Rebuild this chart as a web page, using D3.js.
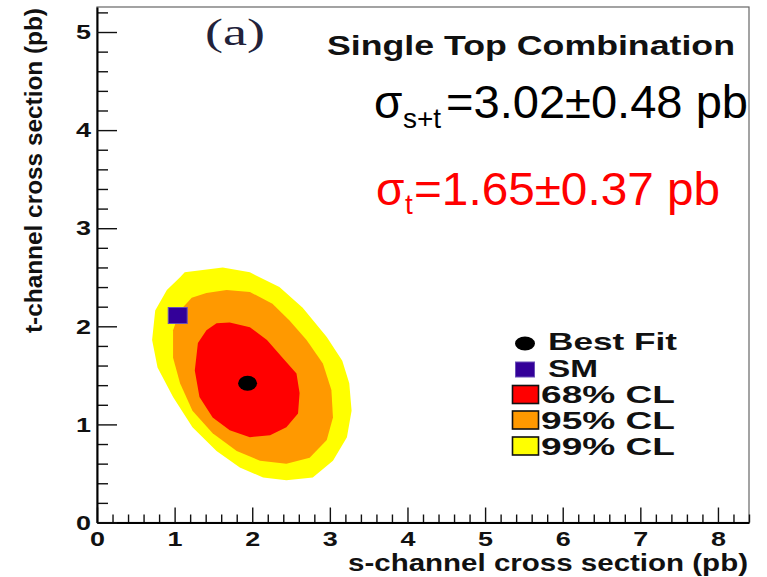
<!DOCTYPE html>
<html>
<head>
<meta charset="utf-8">
<script src="https://cdn.jsdelivr.net/npm/d3@7"></script>
<style>
  html, body { margin: 0; padding: 0; background: #fff; }
  svg { display: block; }
  text { font-family: "Liberation Sans", Arial, Helvetica, sans-serif; }
</style>
</head>
<body>
<svg id="chart" width="767" height="577"></svg>
<script>
// Axis ticks (pb)
const sMajorTicks = [0, 1, 2, 3, 4, 5, 6, 7, 8];
const tMajorTicks = [0, 1, 2, 3, 4, 5];

// Best-fit point and Standard Model prediction, [s-channel, t-channel] in pb
const bestFit = [1.94, 1.42];
const smPoint = [1.04, 2.11];

// Confidence-region outlines, [s, t] pairs in pb
const cl99 = [
  [1.13, 2.55], [1.62, 2.60], [1.97, 2.55], [2.35, 2.40], [2.65, 2.19],
  [2.96, 1.89], [3.16, 1.65], [3.25, 1.42], [3.28, 1.14], [3.22, 0.87],
  [3.04, 0.63], [2.78, 0.46], [2.44, 0.43], [2.14, 0.46], [1.84, 0.56],
  [1.54, 0.73], [1.23, 0.97], [0.98, 1.28], [0.78, 1.58], [0.71, 1.86],
  [0.75, 2.16], [0.90, 2.37], [1.07, 2.50]
];
const cl95 = [
  [1.22, 2.29], [1.41, 2.34], [1.67, 2.37], [1.97, 2.35], [2.26, 2.23],
  [2.48, 2.06], [2.70, 1.86], [2.91, 1.62], [3.02, 1.35], [3.04, 1.07],
  [2.96, 0.84], [2.74, 0.66], [2.44, 0.60], [2.10, 0.63], [1.80, 0.73],
  [1.49, 0.91], [1.23, 1.14], [1.07, 1.42], [0.98, 1.68], [0.98, 1.96],
  [1.07, 2.16]
];
const cl68 = [
  [1.41, 1.96], [1.54, 2.03], [1.71, 2.04], [1.97, 1.99], [2.19, 1.86],
  [2.39, 1.68], [2.57, 1.52], [2.61, 1.32], [2.59, 1.11], [2.44, 0.97],
  [2.23, 0.89], [1.97, 0.87], [1.71, 0.94], [1.49, 1.07], [1.32, 1.28],
  [1.26, 1.55], [1.30, 1.83]
];

const regionNames = ["68% CL", "95% CL", "99% CL"];
const regionColors = ["#ff0000", "#ff9900", "#ffff00"];
const markerNames = ["Best Fit", "SM"];

const sumText = "3.02\u00b10.48 pb";
const tText = "1.65\u00b10.37 pb";

const svg = d3.select("#chart");
svg.append("rect").attr("width", 767).attr("height", 577).attr("fill", "#fff");

const x = d3.scaleLinear().domain([0, 8.4]).range([97, 749]);
const y = d3.scaleLinear().domain([0, 5.255]).range([522.5, 7]);

// Frame
svg.append("rect")
  .attr("x", x(0)).attr("y", y(5.255))
  .attr("width", x(8.4) - x(0)).attr("height", y(0) - y(5.255))
  .attr("fill", "none").attr("stroke", "#666").attr("stroke-width", 1.2);

// Confidence regions, outermost first
const line = d3.line().x(d => x(d[0])).y(d => y(d[1])).curve(d3.curveLinearClosed);
[cl99, cl95, cl68].forEach((pts, i) => {
  svg.append("path")
    .attr("d", line(pts))
    .attr("fill", regionColors[2 - i])
    .attr("stroke", "none");
});

// Best fit and SM markers
svg.append("ellipse")
  .attr("cx", x(bestFit[0])).attr("cy", y(bestFit[1]))
  .attr("rx", 9.5).attr("ry", 7.5).attr("fill", "#000");
svg.append("rect")
  .attr("x", x(smPoint[0]) - 9.5).attr("y", y(smPoint[1]) - 8)
  .attr("width", 19).attr("height", 16)
  .attr("fill", "#330099").attr("stroke", "#6a50b8").attr("stroke-width", 1);

// Axes
const range = (a, b, step) => d3.range(Math.round(a / step), Math.round(b / step) + 1).map(k => +(k * step).toFixed(2));
const sMinor = range(0, 8.4, 0.2).filter(v => !sMajorTicks.includes(v));
const tMinor = range(0, 5.2, 0.2).filter(v => !tMajorTicks.includes(v));

const gx = svg.append("g").attr("transform", `translate(0,${y(0)})`);
gx.call(d3.axisBottom(x).tickValues(sMinor).tickSize(-8).tickSizeOuter(0).tickFormat(""));
gx.call(g => g.selectAll(".domain").remove());
const gxM = svg.append("g").attr("transform", `translate(0,${y(0)})`);
gxM.call(d3.axisBottom(x).tickValues(sMajorTicks).tickSize(-15).tickSizeOuter(0).tickPadding(9).tickFormat(d3.format("d")));

const gy = svg.append("g").attr("transform", `translate(${x(0)},0)`);
gy.call(d3.axisLeft(y).tickValues(tMinor).tickSize(-11).tickSizeOuter(0).tickFormat(""));
gy.call(g => g.selectAll(".domain").remove());
const gyM = svg.append("g").attr("transform", `translate(${x(0)},0)`);
gyM.call(d3.axisLeft(y).tickValues(tMajorTicks).tickSize(-20).tickSizeOuter(0).tickPadding(6).tickFormat(d3.format("d")));

svg.selectAll(".tick line").attr("stroke", "#111").attr("stroke-width", 1.4);
svg.selectAll(".domain").attr("stroke", "#000").attr("stroke-width", 2);
svg.selectAll(".tick text")
  .attr("font-family", "Liberation Sans, Arial, sans-serif")
  .attr("font-size", 21).attr("font-weight", "bold").attr("fill", "#111")
  .attr("textLength", 15).attr("lengthAdjust", "spacingAndGlyphs");

// Axis titles
svg.append("text")
  .attr("x", 748).attr("y", 571)
  .attr("text-anchor", "end")
  .attr("font-size", 23).attr("font-weight", "bold").attr("fill", "#111")
  .attr("textLength", 400).attr("lengthAdjust", "spacingAndGlyphs")
  .text("s-channel cross section (pb)");
svg.append("text")
  .attr("transform", "translate(42,8) rotate(-90)")
  .attr("text-anchor", "end")
  .attr("font-size", 24).attr("font-weight", "bold").attr("fill", "#111")
  .attr("textLength", 325).attr("lengthAdjust", "spacingAndGlyphs")
  .text("t-channel cross section (pb)");

// Panel label and title
svg.append("text")
  .attr("x", 205).attr("y", 45)
  .style("font-family", "'Liberation Serif', 'Times New Roman', serif")
  .attr("font-size", 38).attr("fill", "#22223a")
  .attr("textLength", 60).attr("lengthAdjust", "spacingAndGlyphs")
  .text("(a)");
svg.append("text")
  .attr("x", 327).attr("y", 55)
  .attr("font-size", 27).attr("font-weight", "bold").attr("fill", "#111")
  .attr("textLength", 408).attr("lengthAdjust", "spacingAndGlyphs")
  .text("Single Top Combination");

// Cross-section results: sigma, subscript and value in one text element
function sigma(x0, base, sub, subX, subDrop, mainX, mainLen, body, color) {
  const t = svg.append("text").attr("y", base).attr("fill", color);
  t.append("tspan").attr("x", x0).attr("font-size", 46).text("\u03c3");
  t.append("tspan").attr("x", subX).attr("dy", subDrop).attr("font-size", 28).text(sub);
  t.append("tspan").attr("x", mainX).attr("dy", -subDrop).attr("font-size", 46)
    .attr("textLength", mainLen).attr("lengthAdjust", "spacingAndGlyphs")
    .text("=" + body);
}
sigma(374, 118, "s+t", 403, 10, 446, 302, sumText, "#000");
sigma(376, 205, "t", 405, 9, 414, 306, tText, "#ff0000");

// Legend
const legendRows = [343.5, 369.5, 394.5, 420, 446];
svg.append("ellipse").attr("cx", 525).attr("cy", legendRows[0])
  .attr("rx", 10).attr("ry", 7).attr("fill", "#000");
svg.append("rect").attr("x", 515.5).attr("y", legendRows[1] - 7.5)
  .attr("width", 19).attr("height", 15)
  .attr("fill", "#330099").attr("stroke", "#6a50b8").attr("stroke-width", 1);
regionNames.forEach((name, i) => {
  svg.append("rect").attr("x", 512.5).attr("y", legendRows[i + 2] - 9)
    .attr("width", 26).attr("height", 18)
    .attr("fill", regionColors[i]).attr("stroke", "#111").attr("stroke-width", 1.6);
});
const legendText = [
  { label: markerNames[0], x: 548, base: 350, len: 129 },
  { label: markerNames[1], x: 548, base: 377, len: 50 },
  { label: regionNames[0], x: 541, base: 403, len: 134 },
  { label: regionNames[1], x: 541, base: 429, len: 134 },
  { label: regionNames[2], x: 541, base: 455, len: 134 }
];
legendText.forEach(d => {
  svg.append("text").attr("x", d.x).attr("y", d.base)
    .attr("font-size", 24).attr("font-weight", "bold").attr("fill", "#111")
    .attr("textLength", d.len).attr("lengthAdjust", "spacingAndGlyphs")
    .text(d.label);
});
</script>
</body>
</html>
